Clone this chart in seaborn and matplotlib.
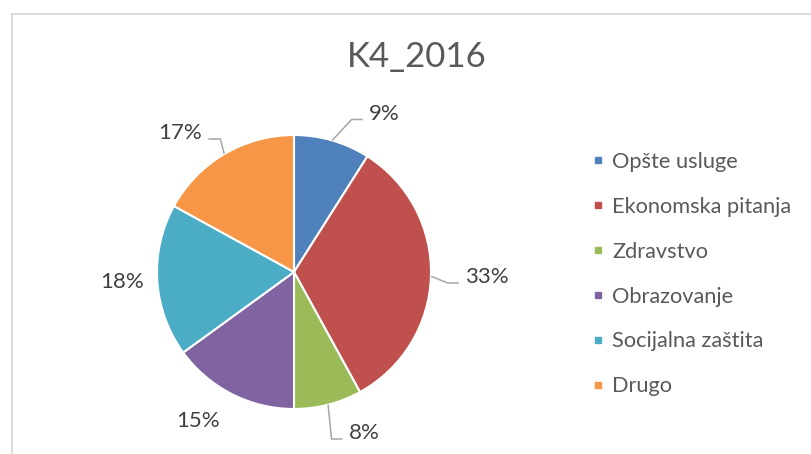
import numpy as np
import matplotlib
matplotlib.use('Agg')
import matplotlib.pyplot as plt
from matplotlib.lines import Line2D
from matplotlib.patches import Rectangle
import seaborn as sns

# data
title = 'K4_2016'
categories = ['Opšte usluge', 'Ekonomska pitanja', 'Zdravstvo',
              'Obrazovanje', 'Socijalna zaštita', 'Drugo']
shares = [9, 33, 8, 15, 18, 17]
colors = ['#4F81BD', '#C0504D', '#9BBB59', '#8064A2', '#4BACC6', '#F79646']

# layout (pixel coords, y down): label anchor = (center x, baseline y)
label_xy = [(384, 119.5), (486.7, 283), (364, 439), (198, 426.7), (121.7, 288), (180.5, 139)]
has_leader = [True, True, True, False, False, True]

sns.set_theme(style='white')
plt.rcParams['font.family'] = ['Lato', 'DejaVu Sans']

W, H = 812, 454
fig = plt.figure(figsize=(W / 100, H / 100), dpi=100)
ax = fig.add_axes([0, 0, 1, 1])

cx, cy, R = 294, 272, 137
ax.pie(shares, colors=colors, startangle=90, counterclock=False,
       center=(cx, H - cy), radius=R,
       wedgeprops=dict(edgecolor='white', linewidth=1.5))
ax.set_xlim(0, W)
ax.set_ylim(0, H)
ax.set_aspect('equal')
ax.axis('off')

# title
ax.text(417, H - 67, title, ha='center', va='baseline', fontsize=25, color='#595959')

# percentage labels
total = sum(shares)
cum = np.cumsum([0] + shares[:-1])
mids = np.deg2rad(90 - 360 * (cum + np.array(shares) / 2) / total)
texts = []
for v, (lx, ly) in zip(shares, label_xy):
    t = ax.text(lx, H - ly, f'{v}%', ha='center', va='baseline', fontsize=16, color='#404040')
    texts.append(t)

fig.canvas.draw()
inv = ax.transData.inverted()
for t, m, (lx, ly), lead in zip(texts, mids, label_xy, has_leader):
    if not lead:
        continue
    bb = t.get_window_extent().transformed(inv)
    sx, sy = cx + R * np.cos(m), (H - cy) + R * np.sin(m)
    by = H - ly
    if np.cos(m) > 0:
        ex = bb.x0 - 6
        kx = ex - 11
    else:
        ex = bb.x1 + 6
        kx = ex + 12
    ax.plot([sx, kx, ex], [sy, by, by], color='#A6A6A6', lw=1.1, solid_capstyle='butt')

# legend
handles = [Line2D([], [], marker='s', ls='', color=c, markersize=4.5) for c in colors]
ax.legend(handles, categories, loc='upper left', bbox_to_anchor=(591.6, H - 152),
          bbox_transform=ax.transData, frameon=False, fontsize=15.7,
          handlelength=0.6, handletextpad=0.35, labelspacing=1.14,
          borderpad=0, borderaxespad=0, labelcolor='#595959')

# chart border
ax.add_patch(Rectangle((12, -20), W + 40, H - 14 + 20, fill=False,
                       edgecolor='#D9D9D9', lw=1.3, clip_on=False))

fig.savefig('out.png', dpi=100)
